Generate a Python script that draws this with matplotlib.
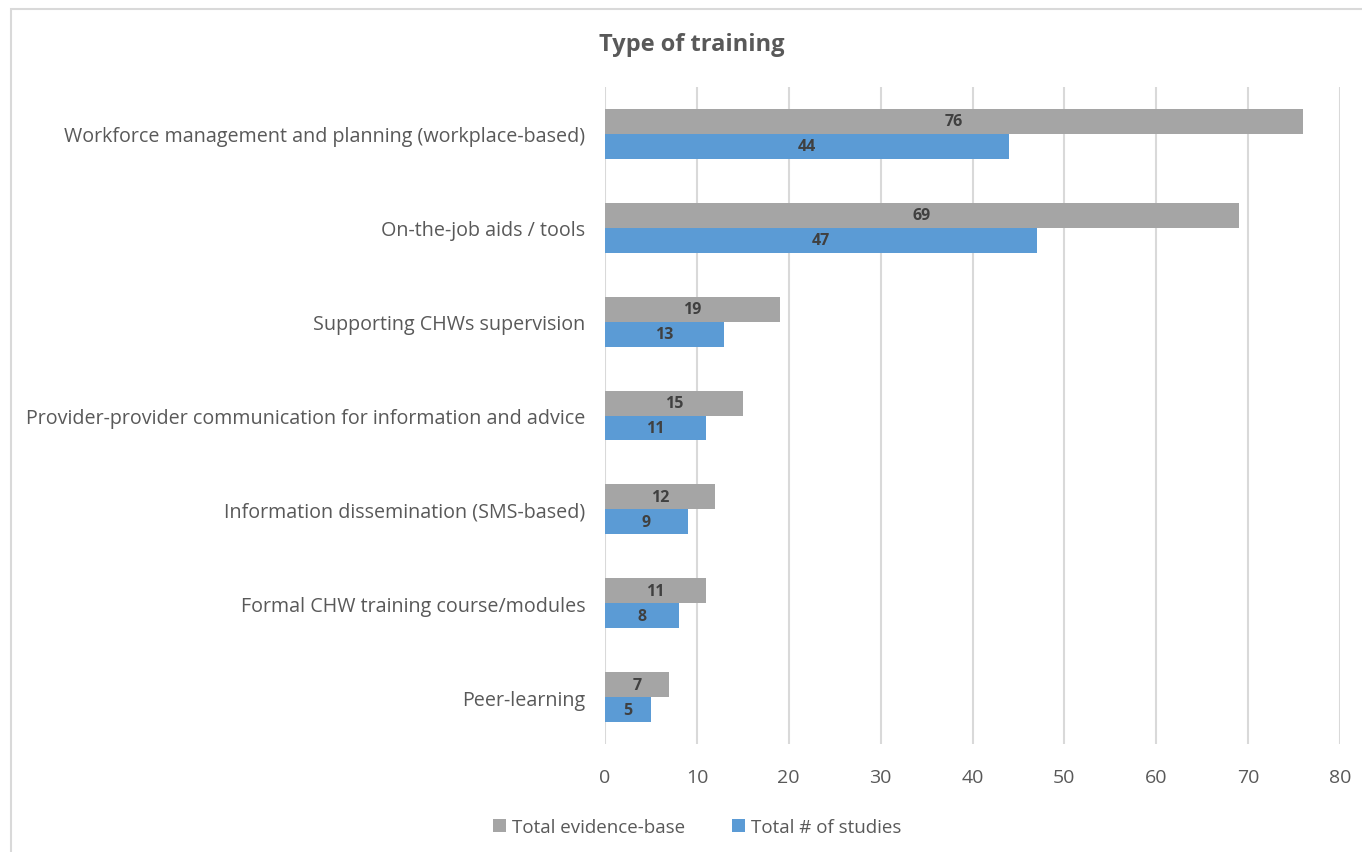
import matplotlib.pyplot as plt
import numpy as np
from matplotlib.patches import Rectangle

plt.rcParams['font.family'] = ['Open Sans', 'DejaVu Sans']

categories = ['Workforce management and planning (workplace-based)',
              'On-the-job aids / tools',
              'Supporting CHWs supervision',
              'Provider-provider communication for information and advice',
              'Information dissemination (SMS-based)',
              'Formal CHW training course/modules',
              'Peer-learning']
evidence = [76, 69, 19, 15, 12, 11, 7]
studies = [44, 47, 13, 11, 9, 8, 5]
xticks = [0, 10, 20, 30, 40, 50, 60, 70, 80]

grey = '#A5A5A5'
blue = '#5B9BD5'
txt = '#595959'

fig = plt.figure(figsize=(13.62, 8.53), dpi=100)
# outer chart frame
fig.patches.append(Rectangle((11 / 1362, -0.05), 1.1, 1 - 10 / 853 + 0.05,
                             transform=fig.transFigure, fill=False,
                             edgecolor='#D9D9D9', linewidth=1.5))
ax = fig.add_axes([605 / 1362, 1 - 745 / 853, (1340 - 605) / 1362, (745 - 88) / 853])

y = np.arange(len(categories))
h = 0.265
b1 = ax.barh(y - h / 2, evidence, height=h, color=grey, label='Total evidence-base')
b2 = ax.barh(y + h / 2, studies, height=h, color=blue, label='Total # of studies')
for bars in (b1, b2):
    ax.bar_label(bars, label_type='center', fontsize=11.5, fontweight='bold', color='#404040')

ax.set_ylim(len(categories) - 0.5, -0.5)
ax.set_xlim(0, 80)
ax.set_xticks(xticks)
ax.set_yticks(y)
ax.set_yticklabels(categories)
ax.tick_params(axis='y', length=0, pad=14, labelsize=14.25, labelcolor=txt)
ax.tick_params(axis='x', length=0, pad=17, labelsize=14, labelcolor=txt)
ax.grid(axis='x', color='#D9D9D9', linewidth=1.5)
ax.set_axisbelow(True)
for s in ax.spines.values():
    s.set_visible(False)

fig.text(692 / 1362, 1 - 45 / 853, 'Type of training', ha='center', va='center',
         fontsize=17, fontweight='bold', color=txt)
fig.legend(loc='center', bbox_to_anchor=(697 / 1362, 1 - 828 / 853), ncol=2,
           frameon=False, fontsize=13.5, labelcolor=txt, handlelength=0.7,
           handleheight=0.7, columnspacing=2.5, handletextpad=0.3)

fig.savefig('out.png', dpi=100)
